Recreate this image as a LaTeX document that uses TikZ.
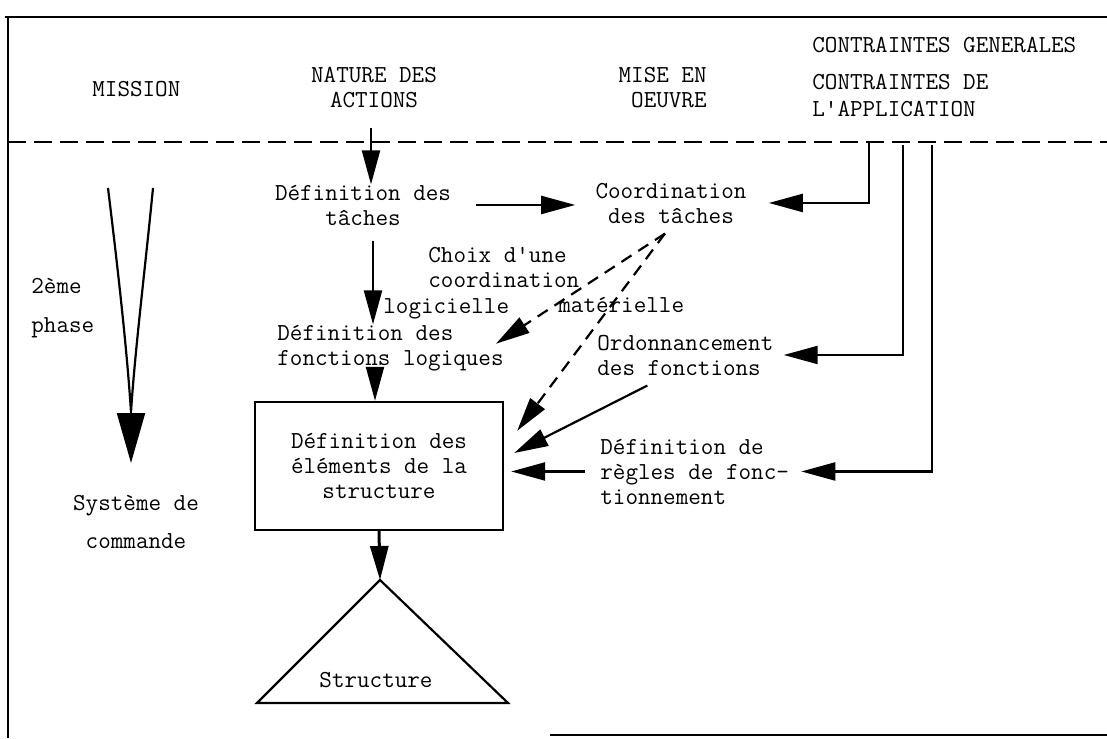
\documentclass[tikz,border=0pt]{standalone}
\usetikzlibrary{arrows.meta}

\begin{document}
\begin{tikzpicture}[x=0.5pt,y=-0.5pt,
	every node/.style={font=\ttfamily\fontsize{12.2}{12.5}\selectfont,inner sep=0pt},
	arr/.style={-{Triangle[length=17pt,width=9pt]},line width=1.1pt},
	dasharr/.style={arr,dash pattern=on 6pt off 4pt},
	frame/.style={line width=1.2pt}]
			\useasboundingbox (0,0) rectangle (1107,738);
			\draw[frame] (5,17) -- (1107,17);
			\draw[frame] (8,17) -- (8,738);
			\draw[frame] (550,735) -- (1107,735);
			\draw[frame,dash pattern=on 9pt off 4pt] (8,142) -- (1107,142);
			\node[anchor=base west] (mission) at (92,97) {MISSION};
			\node[anchor=base,align=center] (nature) at (374,107) {NATURE DES\\ACTIONS};
			\node[anchor=base east,align=right] (mise) at (707,108) {MISE EN\\[0.5pt]OEUVRE};
			\node[anchor=base west] (generales) at (812,53) {CONTRAINTES GENERALES};
			\node[anchor=base west,align=left] (appli) at (812,117) {CONTRAINTES DE\\[1pt]L'APPLICATION};
			\node[anchor=base west,align=left] (phase) at (31,332) {2ème\\[7pt]phase};
			\node[anchor=base,align=center] (commande) at (136,548) {Système de\\[6.5pt]commande};
			\coordinate (coneL) at (108,188);
			\coordinate (coneR) at (153,188);
			\coordinate (coneB) at (131,412);
			\coordinate (coneT) at (131,463);
			\draw[line width=1.1pt] (coneL) .. controls (118,270) and (127,350) .. (coneB) .. controls (135,350) and (145,270) .. (coneR);
			\draw[-{Triangle[length=25pt,width=14pt]},line width=1.1pt] (coneB) -- (coneT);
			\node[anchor=base,align=center] (taches) at (363,225) {Définition des\\tâches};
			\node[anchor=base,align=center] (coord) at (671,223) {Coordination\\des tâches};
			\node[anchor=base west,align=left] (choix) at (428,287) {Choix d'une\\coordination};
			\node[anchor=base west] (logi) at (383,313) {logicielle};
			\node[anchor=base west] (mate) at (558,312) {matérielle};
			\node[anchor=base west,align=left] (fonct) at (277,365) {Définition des\\fonctions logiques};
			\node[anchor=base west,align=left] (ordo) at (597,375) {Ordonnancement\\des fonctions};
			\node[anchor=base west,align=left] (regles) at (600,504) {Définition de\\règles de fonc-\\tionnement};
			\node[draw,line width=1.2pt,minimum width=124pt,minimum height=64pt,align=center] (elem) at (379,466) {Définition des\\éléments de la\\structure};
			\node[anchor=base] (struct) at (376,687) {Structure};
			\coordinate (apex) at (380,580);
			\draw[line width=1.1pt] (apex) -- (257,703) -- (508,703) -- cycle;
			\coordinate (c1) at (869,142);
			\coordinate (c2) at (903,145);
			\coordinate (c3) at (932,145);
			\coordinate (split) at ([xshift=-3pt,yshift=-5pt]coord.south);
			\draw[arr] ([xshift=-1.5pt,yshift=-10pt]nature.south) -- ([xshift=-1.5pt]nature.south |- taches.north);
			\draw[arr] ([xshift=12.5pt]taches.east) -- ([xshift=-10pt]taches.east -| coord.west);
			\draw[arr] ([xshift=5pt,yshift=-7.5pt]taches.south) -- ([xshift=5pt]taches.south |- fonct.north);
			\draw[arr] ([xshift=-2pt,yshift=-1.5pt]elem.north |- fonct.south) -- ([xshift=-2pt]elem.north);
			\draw[arr,line width=1.5pt] (elem.south) -- (apex);
			\draw[arr] (c1) |- ([xshift=11pt]coord.east);
			\draw[arr] (c2) |- ([xshift=5pt]ordo.east);
			\draw[arr] (c3) |- ([xshift=6pt]regles.east);
			\draw[arr] ([xshift=-19pt,yshift=-5pt]ordo.south) -- ([xshift=5pt,yshift=6.5pt]elem.east);
			\draw[arr] ([xshift=-7.5pt]regles.west) -- ([xshift=3.5pt]regles.west -| elem.east);
			\draw[dasharr] (split) -- ([xshift=-4pt,yshift=2pt]fonct.east);
			\draw[dasharr] (split) -- ([xshift=6.5pt,yshift=-15pt]elem.north east);
\end{tikzpicture}
\end{document}
